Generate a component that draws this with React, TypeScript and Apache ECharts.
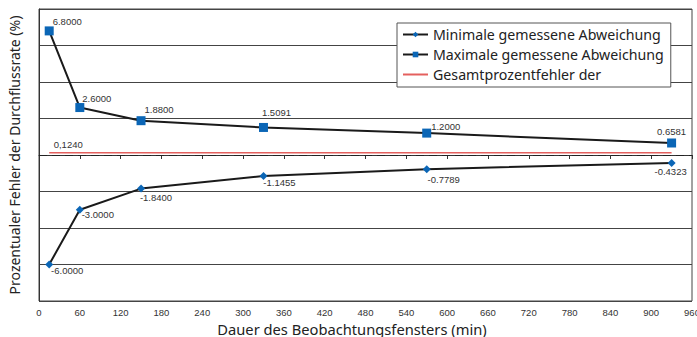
import React, { useEffect, useRef } from "react";
import * as echarts from "echarts";

const durations = [15, 60, 150, 330, 570, 930];
const minDeviation = [-6.0, -3.0, -1.84, -1.1455, -0.7789, -0.4323];
const maxDeviation = [6.8, 2.6, 1.88, 1.5091, 1.2, 0.6581];
const totalErrorValue = 0.124;
const totalErrorSpan = [15, 930];
const seriesNames = [
  "Minimale gemessene Abweichung",
  "Maximale gemessene Abweichung",
  "Gesamtprozentfehler der",
];
const xAxisTitle = "Dauer des Beobachtungsfensters (min)";
const yAxisTitle = "Prozentualer Fehler der Durchflussrate (%)";

// label placement (styling only)
const maxLabelOffsets = [[18, -9], [17, -9], [18, -11], [13, -15], [19, -7], [0, -11]];
const minLabelOffsets = [[18, 6], [18, 5], [15, 9], [16, 7], [17, 10], [-1, 9]];

const NARROW = "'Liberation Sans', Arial, sans-serif";
const TITLE_FONT = "'Noto Sans', 'Open Sans', sans-serif";
const BLUE = "#0b66b6";
const RED = "#e4605e";

export default function App() {
  const ref = useRef<HTMLDivElement>(null);
  useEffect(() => {
    if (!ref.current) return;
    const chart = echarts.init(ref.current, undefined, { renderer: "svg" });
    const labelBase = {
      show: true,
      position: "inside",
      fontFamily: NARROW,
      fontSize: 9.5,
      color: "#333",
      formatter: (p: any) => Number(p.value[1]).toFixed(4),
    };
    chart.setOption({
      animation: false,
      grid: {
        left: 39,
        right: 5,
        top: 9,
        bottom: 36,
        containLabel: false,
        outerBoundsMode: "none",
        show: true,
        borderColor: "#444",
        borderWidth: 1,
      },
      legend: {
        orient: "vertical",
        left: 397,
        top: 23,
        backgroundColor: "#fff",
        borderColor: "#555",
        borderWidth: 1,
        padding: [3, 7, 4, 5],
        itemGap: 3,
        itemWidth: 25,
        itemHeight: 7,
        z: 10,
        textStyle: { fontFamily: TITLE_FONT, fontSize: 14.2, color: "#222", lineHeight: 17 },
        data: [
          { name: seriesNames[0] },
          { name: seriesNames[1] },
          { name: seriesNames[2], itemStyle: { color: "rgba(0,0,0,0)", borderWidth: 0 } },
        ],
      },
      xAxis: {
        type: "value",
        min: 0,
        max: 960,
        interval: 60,
        name: xAxisTitle,
        nameLocation: "middle",
        nameGap: 20,
        nameTextStyle: {
          fontFamily: TITLE_FONT,
          fontSize: 14.7,
          color: "#222",
          padding: [0, 27, 0, 0],
        },
        axisLine: { show: true, lineStyle: { color: "#333", width: 1 } },
        axisTick: { show: true, length: 4, lineStyle: { color: "#333" } },
        axisLabel: { fontFamily: NARROW, fontSize: 9.5, color: "#333", margin: 6 },
        splitLine: { show: false },
      },
      yAxis: {
        type: "value",
        min: -8,
        max: 8,
        interval: 2,
        name: yAxisTitle,
        nameLocation: "middle",
        nameGap: 18,
        nameTextStyle: { fontFamily: TITLE_FONT, fontSize: 14, color: "#222" },
        axisLine: { show: true, lineStyle: { color: "#333", width: 1 } },
        axisTick: { show: false },
        axisLabel: { show: false },
        splitLine: {
          show: true,
          lineStyle: {
            color: ["#444", "#444", "#444", "#444", "rgba(0,0,0,0)", "#444", "#444", "#444", "#444"],
            width: 1,
          },
        },
      },
      series: [
        {
          name: seriesNames[2],
          type: "line",
          symbol: "none",
          lineStyle: { color: RED, width: 1.5 },
          itemStyle: { color: RED },
          data: totalErrorSpan.map((x) => [x, totalErrorValue]),
          z: 3,
          markPoint: {
            symbol: "circle",
            symbolSize: 1,
            itemStyle: { color: "rgba(0,0,0,0)" },
            label: {
              show: true,
              position: "inside",
              offset: [19, -8],
              fontFamily: NARROW,
              fontSize: 9.5,
              color: "#333",
              formatter: () => totalErrorValue.toFixed(4).replace(".", ","),
            },
            data: [{ coord: [totalErrorSpan[0], totalErrorValue] }],
          },
          markLine: {
            silent: true,
            symbol: "none",
            label: { show: false },
            lineStyle: { color: "#222", type: [8, 5], width: 1.2 },
            data: [{ yAxis: 0 }],
          },
        },
        {
          name: seriesNames[0],
          type: "line",
          symbol: "diamond",
          symbolSize: 8,
          lineStyle: { color: "#1a1a1a", width: 2 },
          itemStyle: { color: BLUE },
          z: 4,
          label: labelBase,
          data: durations.map((x, i) => ({
            value: [x, minDeviation[i]],
            label: { offset: minLabelOffsets[i] },
          })),
        },
        {
          name: seriesNames[1],
          type: "line",
          symbol: "rect",
          symbolSize: 9,
          lineStyle: { color: "#1a1a1a", width: 2 },
          itemStyle: { color: BLUE },
          z: 4,
          label: labelBase,
          data: durations.map((x, i) => ({
            value: [x, maxDeviation[i]],
            label: { offset: maxLabelOffsets[i] },
          })),
        },
      ],
    });
    return () => chart.dispose();
  }, []);
  return (
    <div
      ref={ref}
      style={{ position: "absolute", left: 0, top: 0, width: 697, height: 337, background: "#fff" }}
    />
  );
}
